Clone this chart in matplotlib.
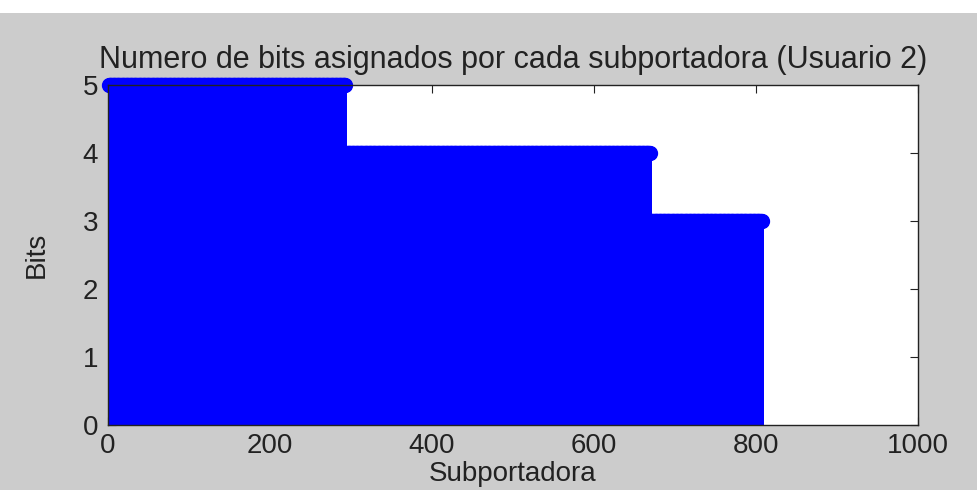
import numpy as np
import matplotlib.pyplot as plt
from matplotlib.patches import Rectangle

# bits asignados por bloque de subportadoras (Usuario 2)
n_sub = [293, 376, 138]
bit_levels = [5, 4, 3]
xticks = [0, 200, 400, 600, 800, 1000]
yticks = [0, 1, 2, 3, 4, 5]

bits = np.repeat(bit_levels, n_sub)
sub = np.arange(1, len(bits) + 1)

plt.rcParams['font.family'] = ['Liberation Sans', 'DejaVu Sans']

fig = plt.figure(figsize=(9.77, 4.9), dpi=100, facecolor='#cccccc')
# white strip at the very top of the screenshot
fig.patches.append(Rectangle((0, 1 - 13/490), 1, 13/490, transform=fig.transFigure,
                             facecolor='white', edgecolor='none', zorder=-1))

ax = fig.add_axes([0.1105, 0.1327, 0.8291, 0.6938])
ax.set_facecolor('white')

ml, sl, bl = ax.stem(sub, bits, linefmt='b-', markerfmt='bo', basefmt='b-')
plt.setp(sl, linewidth=2.0, clip_on=False, antialiased=False, color='#0000ff')
plt.setp(ml, markersize=10, markerfacecolor='#0000ff', markeredgecolor='#0000ff', clip_on=False)
plt.setp(bl, linewidth=1)

ax.set_xlim(0, 1000)
ax.set_ylim(0, 5)
ax.set_xticks(xticks)
ax.set_yticks(yticks)
ax.tick_params(direction='in', top=True, right=True, length=6, labelsize=20, pad=6, colors='#222222')
ax.tick_params(axis='y', pad=7)
for s in ax.spines.values():
    s.set_linewidth(1)
    s.set_color('#222222')

ax.set_title('Numero de bits asignados por cada subportadora (Usuario 2)', fontsize=22, pad=12, color='#222222')
ax.set_xlabel('Subportadora', fontsize=20, labelpad=1, color='#222222')
ax.set_ylabel('Bits', fontsize=20, labelpad=24, color='#222222')

fig.savefig('out.png', dpi=100, facecolor=fig.get_facecolor())
